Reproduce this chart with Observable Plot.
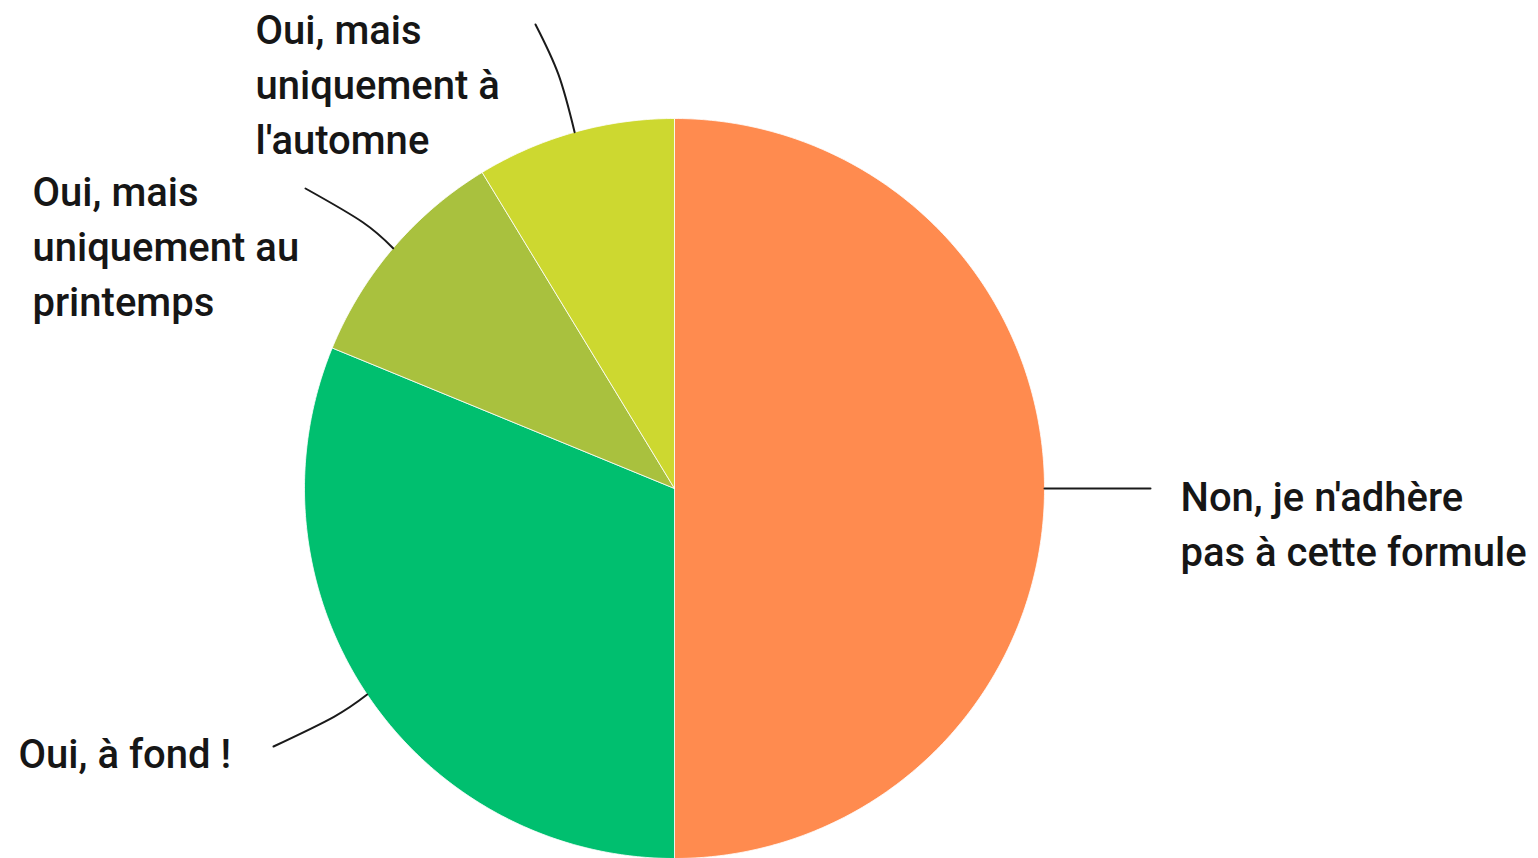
<!DOCTYPE html>
<html><head><meta charset="utf-8">
<script src="https://cdn.jsdelivr.net/npm/d3@7"></script>
<script src="https://cdn.jsdelivr.net/npm/@observablehq/plot@0.6"></script>
<style>html,body{margin:0;padding:0;background:#fff;overflow:hidden}</style>
</head><body><div id="chart"></div>
<script>
// ---- data ----
const categories = ["non", "fond", "printemps", "automne"];
const values = [50.0, 31.2, 10.1, 8.7];
const labels = [
  "Non, je n'adhère\npas à cette formule",
  "Oui, à fond !",
  "Oui, mais\nuniquement au\nprintemps",
  "Oui, mais\nuniquement à\nl'automne"
];
const colors = ["#FF8B4F", "#00BF6F", "#A9C13E", "#CDD830"];

// ---- layout ----
const W = 1538, H = 858, CX = 674, CY = 488, R = 370;
const labelLayout = {
  non:       {end: [1150, 488], out: 0,  tx: 1180, ty: 471},
  fond:      {end: [273, 746],  out: 40, tx: 18,   ty: 728},
  printemps: {end: [305, 188],  out: 40, tx: 32,   ty: 166},
  automne:   {end: [535, 24],   out: 60, tx: 255,  ty: 4}
};

const arcs = d3.pie().sort(null).value(d => d)(values);

const slicePts = [];
const leaderPts = [];
const labelRows = [];
arcs.forEach((a, i) => {
  const cat = categories[i];
  slicePts.push({cat, x: CX, y: CY});
  const n = Math.ceil((a.endAngle - a.startAngle) * 90);
  for (let k = 0; k <= n; k++) {
    const t = a.startAngle + (a.endAngle - a.startAngle) * k / n;
    slicePts.push({cat, x: CX + R * Math.sin(t), y: CY - R * Math.cos(t)});
  }
  slicePts.push({cat, x: CX, y: CY});
  const L = labelLayout[cat];
  const m = (a.startAngle + a.endAngle) / 2;
  leaderPts.push({cat, x: CX + R * Math.sin(m), y: CY - R * Math.cos(m)});
  if (L.out > 0) leaderPts.push({cat, x: CX + (R + L.out) * Math.sin(m), y: CY - (R + L.out) * Math.cos(m)});
  leaderPts.push({cat, x: L.end[0], y: L.end[1]});
  labelRows.push({cat, text: labels[i], x: L.tx, y: L.ty});
});

const chart = Plot.plot({
  width: W, height: H, margin: 0,
  x: {type: "identity", axis: null},
  y: {type: "identity", axis: null},
  color: {domain: categories, range: colors},
  style: {background: "#fff"},
  marks: [
    Plot.line(slicePts, {x: "x", y: "y", z: "cat", fill: "cat", stroke: "#fff", strokeWidth: 0.8, curve: "linear"}),
    Plot.line(leaderPts, {x: "x", y: "y", z: "cat", stroke: "#1a1a1a", strokeWidth: 2, curve: "natural"}),
    Plot.text(labelRows, {x: "x", y: "y", text: "text", textAnchor: "start", lineAnchor: "top",
      fontSize: 40, fontWeight: 500, fontFamily: "Roboto", lineHeight: 1.375, fill: "#161616",
      style: "letter-spacing:0.4px"})
  ]
});
document.getElementById("chart").appendChild(chart);
</script>
</body></html>
